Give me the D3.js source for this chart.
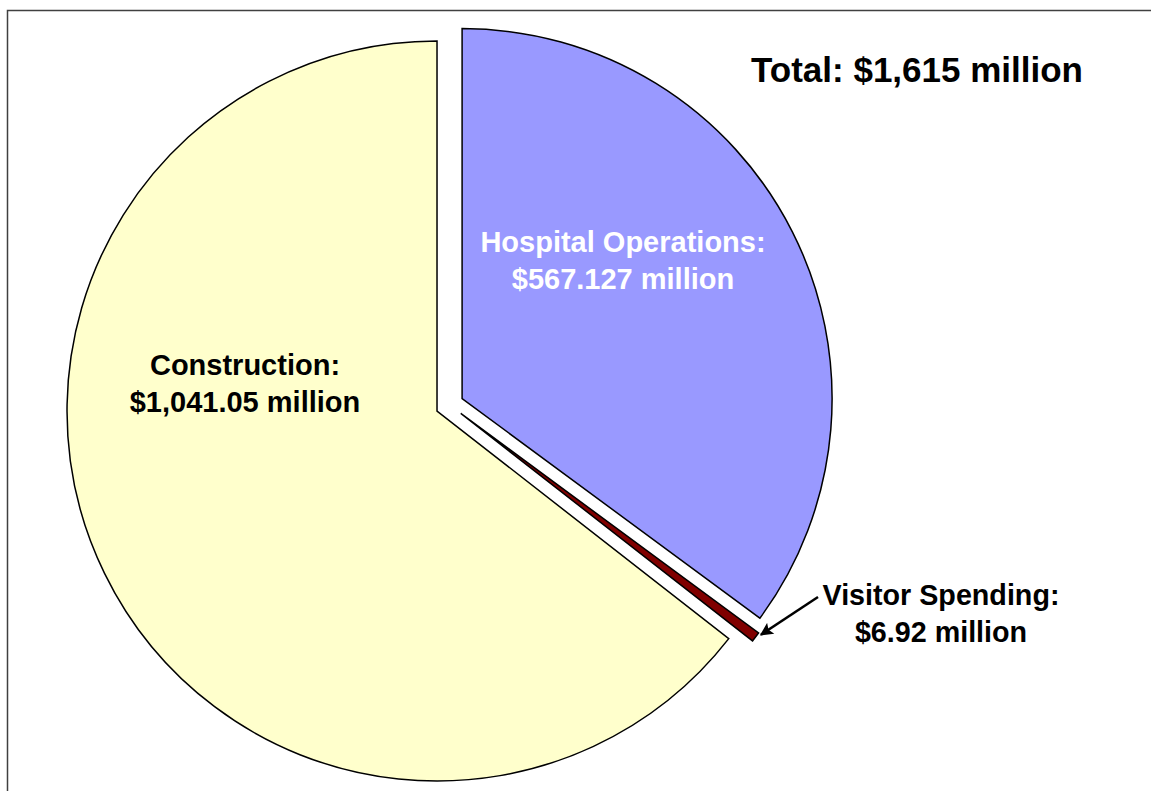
<!DOCTYPE html>
<html>
<head>
<meta charset="utf-8">
<script src="https://cdn.jsdelivr.net/npm/d3@7"></script>
<style>
  html, body { margin: 0; padding: 0; background: #fff; }
  svg { display: block; font-family: Arial, "Liberation Sans", sans-serif; }
</style>
</head>
<body>
<div id="chart"></div>
<script>
// Slice data, in drawing order (clockwise from 12 o'clock)
const categories = ['Hospital Operations', 'Visitor Spending', 'Construction'];
const values = [567.127, 6.92, 1041.05];
const valueLabels = ['$567.127 million', '$6.92 million', '$1,041.05 million'];
const colors = ['#9999ff', '#800000', '#ffffcc'];
const totalLabel = 'Total: $1,615 million';

const width = 1151;
const height = 791;

// Pie geometry
const cx = 449.6;
const cy = 404.9;
const radius = 370;
const explode = 14;

const svg = d3.select('#chart')
  .append('svg')
  .attr('width', width)
  .attr('height', height);

svg.append('defs')
  .append('marker')
  .attr('id', 'arrow')
  .attr('viewBox', '0 0 10 10')
  .attr('refX', 9)
  .attr('refY', 5)
  .attr('markerWidth', 15)
  .attr('markerHeight', 13)
  .attr('markerUnits', 'userSpaceOnUse')
  .attr('orient', 'auto')
  .append('path')
  .attr('d', 'M0,0 L10,5 L0,10 L2,5 Z')
  .style('fill', '#000');

// Chart frame (runs off the right and bottom edges)
svg.append('rect')
  .attr('x', 7.5)
  .attr('y', 10.5)
  .attr('width', 1200)
  .attr('height', 900)
  .style('fill', '#fff')
  .style('stroke', '#404040')
  .style('stroke-width', 1.5);

const pie = d3.pie().sort(null).value(d => d)(values);
const arc = d3.arc().innerRadius(0).outerRadius(radius);

const g = svg.append('g')
  .attr('transform', `translate(${cx},${cy})`);

const offset = d => {
  const mid = (d.startAngle + d.endAngle) / 2;
  return [explode * Math.sin(mid), -explode * Math.cos(mid)];
};

g.selectAll('path.slice')
  .data(pie)
  .enter()
  .append('path')
  .attr('class', 'slice')
  .attr('transform', d => `translate(${offset(d)})`)
  .attr('d', arc)
  .style('fill', (d, i) => colors[i])
  .style('stroke', '#000')
  .style('stroke-width', 1.5)
  .style('stroke-linejoin', 'miter');

// Labels
const label = (x, y, lines, size, color) => {
  const t = svg.append('text')
    .attr('x', x)
    .attr('y', y)
    .attr('text-anchor', 'middle')
    .style('font-size', size + 'px')
    .style('font-weight', 'bold')
    .style('fill', color);
  lines.forEach((s, i) => {
    t.append('tspan')
      .attr('x', x)
      .attr('dy', i === 0 ? 0 : 36.5)
      .text(s);
  });
};

label(623, 252, [categories[0] + ':', valueLabels[0]], 29, '#fff');
label(245, 375, [categories[2] + ':', valueLabels[2]], 29, '#000');
label(941, 605, [categories[1] + ':', valueLabels[1]], 28.7, '#000');
label(917, 82, [totalLabel], 35, '#000');

// Leader arrow to the thin Visitor Spending slice
const vs = pie[1];
const [ox, oy] = offset(vs);
const tipX = cx + ox + (radius + 3) * Math.sin(vs.startAngle);
const tipY = cy + oy - (radius + 3) * Math.cos(vs.startAngle);

svg.append('line')
  .attr('x1', 818)
  .attr('y1', 597)
  .attr('x2', tipX)
  .attr('y2', tipY)
  .style('stroke', '#000')
  .style('stroke-width', 2.5)
  .attr('marker-end', 'url(#arrow)');
</script>
</body>
</html>
